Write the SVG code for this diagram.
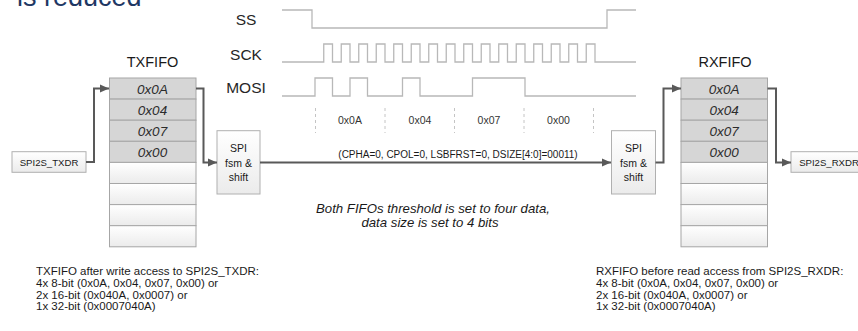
<svg xmlns="http://www.w3.org/2000/svg" width="858" height="331" viewBox="0 0 858 331">
<style>
text{font-family:"Liberation Sans",Arial,sans-serif;fill:#1a1a1a}
.wave{fill:none;stroke:#b8b8b8;stroke-width:1.3}
.dash{stroke:#c4c4c4;stroke-width:1;stroke-dasharray:3,3}
.sig{font-size:15.5px;text-anchor:middle;fill:#262626}
.dat{font-size:10.5px;text-anchor:middle;fill:#333}
.fl{font-size:14.5px;text-anchor:middle;fill:#1a1a1a}
.full{fill:#d6d6d6;stroke:#a6a6a6;stroke-width:1}
.empty{fill:url(#gw);stroke:#a6a6a6;stroke-width:1}
.val{font-size:13.5px;font-style:italic;text-anchor:middle;fill:#2b2b2b}
.box{fill:url(#gw);stroke:#b0b0b0;stroke-width:1}
.bt{font-size:10.5px;text-anchor:middle;fill:#1a1a1a}
.reg{font-size:9.6px;text-anchor:middle;fill:#1a1a1a}
.con{fill:none;stroke:#595959;stroke-width:2;marker-end:url(#ah)}
.note{font-size:13.2px;font-style:italic;text-anchor:middle;fill:#1a1a1a}
.desc{font-size:11.5px;fill:#1a1a1a}
</style>
<defs>
<linearGradient id="gw" x1="0" y1="0" x2="0" y2="1">
<stop offset="0" stop-color="#ffffff"/>
<stop offset="1" stop-color="#ebebeb"/>
</linearGradient>
<marker id="ah" markerUnits="userSpaceOnUse" markerWidth="10" markerHeight="10" refX="9" refY="5" orient="auto">
<path d="M0,1 L9,5 L0,9 Z" fill="#595959"/>
</marker>
</defs>
<rect width="858" height="331" fill="#ffffff"/>
<text x="17" y="5.5" style="font-size:27px;fill:#1f3864">is reduced</text>

<g id="waveforms">
<text class="sig" x="246" y="25">SS</text>
<text class="sig" x="246" y="60">SCK</text>
<text class="sig" x="246" y="93">MOSI</text>
<path class="wave" d="M282,10H312V28H607V10H636"/>
<path class="wave" d="M282,62H323.75V44H332.5V62H341.25V44H350V62H358.75V44H367.5V62H376.25V44H385V62H393.75V44H402.5V62H411.25V44H420V62H428.75V44H437.5V62H446.25V44H455V62H463.75V44H472.5V62H481.25V44H490V62H498.75V44H507.5V62H516.25V44H525V62H533.75V44H542.5V62H551.25V44H560V62H568.75V44H577.5V62H586.25V44H595V62H636"/>
<path class="wave" d="M282,96H315V78H332.5V96H350V78H367.5V96H402.5V78H420V96H472.5V78H525V96H636"/>
<line class="dash" x1="315.5" y1="108" x2="315.5" y2="133"/>
<line class="dash" x1="385" y1="108" x2="385" y2="133"/>
<line class="dash" x1="454.5" y1="108" x2="454.5" y2="133"/>
<line class="dash" x1="524" y1="108" x2="524" y2="133"/>
<line class="dash" x1="593.5" y1="108" x2="593.5" y2="133"/>
<text class="dat" x="350" y="124">0x0A</text>
<text class="dat" x="420" y="124">0x04</text>
<text class="dat" x="489" y="124">0x07</text>
<text class="dat" x="558.5" y="124">0x00</text>
</g>

<g id="txfifo">
<text class="fl" x="152.5" y="67">TXFIFO</text>
<rect class="full" x="109.5" y="78" width="86.5" height="21.1"/>
<rect class="full" x="109.5" y="99.1" width="86.5" height="21.1"/>
<rect class="full" x="109.5" y="120.2" width="86.5" height="21.1"/>
<rect class="full" x="109.5" y="141.3" width="86.5" height="21.1"/>
<rect class="empty" x="109.5" y="162.4" width="86.5" height="21.1"/>
<rect class="empty" x="109.5" y="183.5" width="86.5" height="21.1"/>
<rect class="empty" x="109.5" y="204.6" width="86.5" height="21.1"/>
<rect class="empty" x="109.5" y="225.7" width="86.5" height="21.1"/>
<text class="val" x="152.5" y="93.5">0x0A</text>
<text class="val" x="152.5" y="114.6">0x04</text>
<text class="val" x="152.5" y="135.7">0x07</text>
<text class="val" x="152.5" y="156.8">0x00</text>
</g>

<g id="rxfifo">
<text class="fl" x="725" y="67">RXFIFO</text>
<rect class="full" x="681" y="78" width="86.5" height="21.1"/>
<rect class="full" x="681" y="99.1" width="86.5" height="21.1"/>
<rect class="full" x="681" y="120.2" width="86.5" height="21.1"/>
<rect class="full" x="681" y="141.3" width="86.5" height="21.1"/>
<rect class="empty" x="681" y="162.4" width="86.5" height="21.1"/>
<rect class="empty" x="681" y="183.5" width="86.5" height="21.1"/>
<rect class="empty" x="681" y="204.6" width="86.5" height="21.1"/>
<rect class="empty" x="681" y="225.7" width="86.5" height="21.1"/>
<text class="val" x="724.2" y="93.5">0x0A</text>
<text class="val" x="724.2" y="114.6">0x04</text>
<text class="val" x="724.2" y="135.7">0x07</text>
<text class="val" x="724.2" y="156.8">0x00</text>
</g>

<g id="txdr">
<rect class="box" x="12" y="151.7" width="74" height="20.6"/>
<text class="reg" x="49" y="165.5">SPI2S_TXDR</text>
</g>

<g id="rxdr">
<rect class="box" x="791" y="151.7" width="76" height="20.6"/>
<text class="reg" x="829" y="165.5">SPI2S_RXDR</text>
</g>

<g id="spi_tx">
<rect class="box" x="217" y="130.7" width="43" height="63.3"/>
<text class="bt" x="238.5" y="152">SPI</text>
<text class="bt" x="238.5" y="167">fsm &amp;</text>
<text class="bt" x="238.5" y="181">shift</text>
</g>

<g id="spi_rx">
<rect class="box" x="611.5" y="130.7" width="44" height="63.3"/>
<text class="bt" x="633.5" y="152">SPI</text>
<text class="bt" x="633.5" y="167">fsm &amp;</text>
<text class="bt" x="633.5" y="181">shift</text>
</g>

<g id="connectors">
<path class="con" d="M86,162H94V88.5H109"/>
<path class="con" d="M196,88.5H203.5V162.5H217"/>
<path class="con" d="M260,162.5H611"/>
<path class="con" d="M655.5,162.5H663.5V88.5H681"/>
<path class="con" d="M767.5,88.5H776V162.5H791"/>
<text x="458" y="158" style="font-size:10px;text-anchor:middle;fill:#1a1a1a">(CPHA=0, CPOL=0, LSBFRST=0, DSIZE[4:0]=00011)</text>
</g>

<g id="notes">
<text class="note" x="433" y="213">Both FIFOs threshold is set to four data,</text>
<text class="note" x="430" y="226.5">data size is set to 4 bits</text>
<text class="desc" x="36" y="275">TXFIFO after write access to SPI2S_TXDR:</text>
<text class="desc" x="36" y="286.8">4x 8-bit (0x0A, 0x04, 0x07, 0x00) or</text>
<text class="desc" x="36" y="298.6">2x 16-bit (0x040A, 0x0007) or</text>
<text class="desc" x="36" y="310.4">1x 32-bit (0x0007040A)</text>
<text class="desc" x="596" y="275">RXFIFO before read access from SPI2S_RXDR:</text>
<text class="desc" x="596" y="286.8">4x 8-bit (0x0A, 0x04, 0x07, 0x00) or</text>
<text class="desc" x="596" y="298.6">2x 16-bit (0x040A, 0x0007) or</text>
<text class="desc" x="596" y="310.4">1x 32-bit (0x0007040A)</text>
</g>
</svg>
